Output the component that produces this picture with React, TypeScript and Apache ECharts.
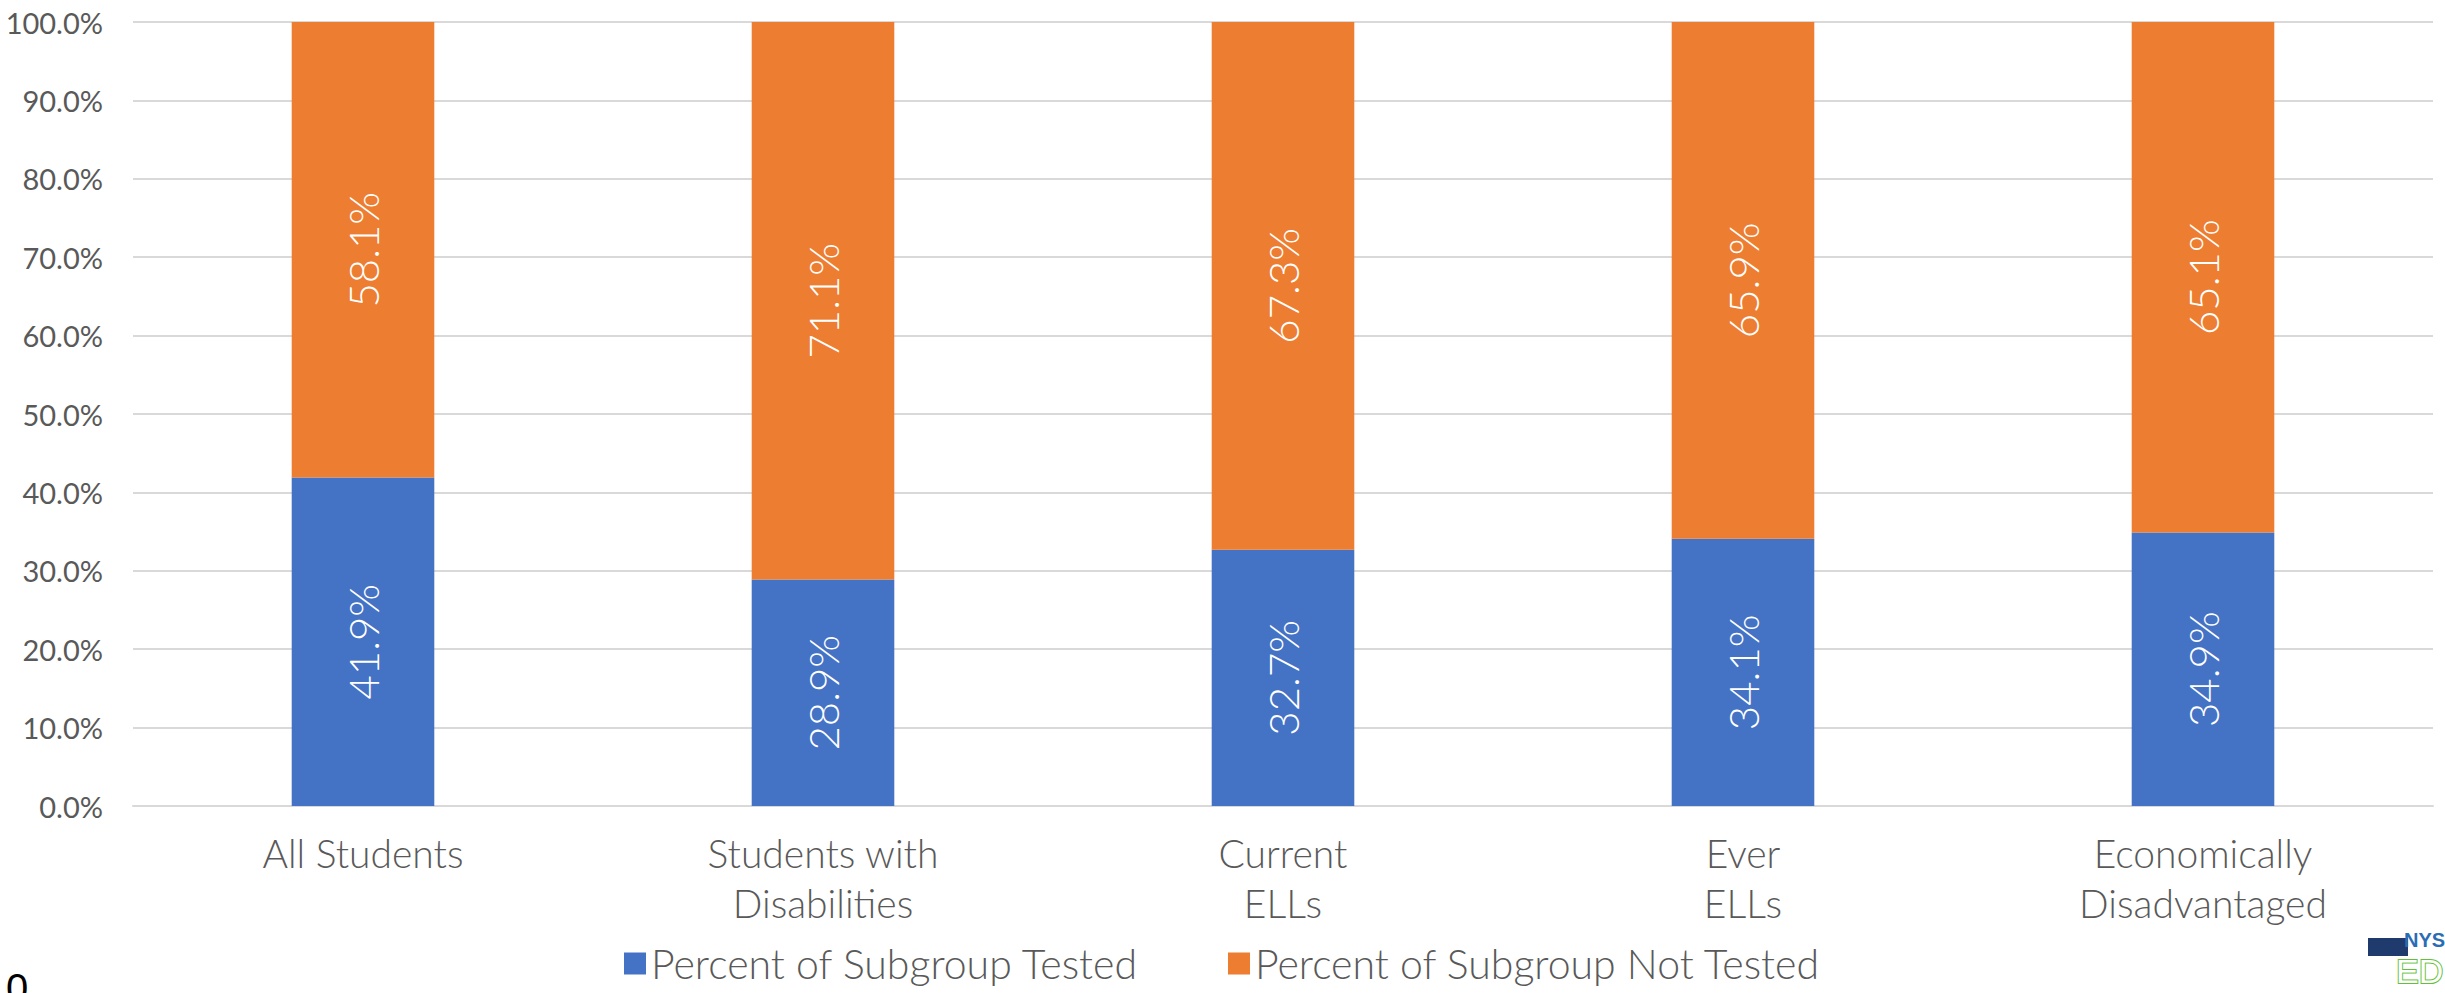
import React, { useEffect, useRef } from "react";
import * as echarts from "echarts";

const categories = [
  "All Students",
  "Students with\nDisabilities",
  "Current\nELLs",
  "Ever\nELLs",
  "Economically\nDisadvantaged",
];
const testedValues = [41.9, 28.9, 32.7, 34.1, 34.9];
const notTestedValues = [58.1, 71.1, 67.3, 65.9, 65.1];
const seriesNames = ["Percent of Subgroup Tested", "Percent of Subgroup Not Tested"];
const yTicks = { min: 0, max: 100, interval: 10 };

export default function App() {
  const ref = useRef<HTMLDivElement>(null);
  useEffect(() => {
    document.body.style.margin = "0";
    const chart = echarts.init(ref.current!, null, { renderer: "svg" });
    const font = "Lato, 'Open Sans', sans-serif";
    const labelStyle = {
      show: true,
      position: "inside",
      rotate: 90,
      color: "#ffffff",
      fontSize: 42,
      fontFamily: font,
      fontWeight: 300,
      formatter: (p: any) => p.value.toFixed(1) + "%",
    };
    chart.setOption({
      animation: false,
      grid: { left: 133, right: 12, top: 22, bottom: 187, containLabel: false },
      legend: {
        bottom: 4,
        left: "center",
        itemWidth: 22,
        itemHeight: 22,
        itemGap: 89,
        icon: "rect",
        textStyle: { color: "#595959", fontSize: 41, fontFamily: font, fontWeight: 300 },
        data: seriesNames,
      },
      xAxis: {
        type: "category",
        data: categories,
        axisLine: { show: true, lineStyle: { color: "#d9d9d9", width: 2 } },
        axisTick: { show: false },
        axisLabel: {
          color: "#595959",
          fontSize: 39,
          lineHeight: 50,
          fontFamily: font,
          fontWeight: 300,
          margin: 22,
          interval: 0,
        },
      },
      yAxis: {
        type: "value",
        min: yTicks.min,
        max: yTicks.max,
        interval: yTicks.interval,
        axisLine: { show: false },
        axisTick: { show: false },
        splitLine: { lineStyle: { color: "#d9d9d9", width: 2 } },
        axisLabel: {
          color: "#595959",
          fontSize: 29,
          fontFamily: font,
          margin: 30,
          formatter: (v: number) => v.toFixed(1) + "%",
        },
      },
      series: [
        {
          name: seriesNames[0],
          type: "bar",
          stack: "total",
          data: testedValues,
          barWidth: "31%",
          itemStyle: { color: "#4472C4" },
          label: labelStyle,
        },
        {
          name: seriesNames[1],
          type: "bar",
          stack: "total",
          data: notTestedValues,
          barWidth: "31%",
          itemStyle: { color: "#ED7D31" },
          label: labelStyle,
        },
      ],
      graphic: [
        {
          type: "text",
          left: 6,
          top: 968,
          style: { text: "0", fontSize: 40, fill: "#000000", fontFamily: "'Liberation Sans', sans-serif" },
        },
        {
          type: "group",
          left: 2368,
          top: 930,
          children: [
            { type: "rect", shape: { x: 0, y: 10, width: 40, height: 18 }, style: { fill: "#1f3b6e" } },
            { type: "text", x: 36, y: 2, style: { text: "NYS", fontSize: 20, fontWeight: "bold", fill: "#2a6db5", fontFamily: "'Liberation Sans', sans-serif" } },
            { type: "text", x: 28, y: 26, style: { text: "ED", fontSize: 34, fill: "#ffffff", stroke: "#62c13a", lineWidth: 2, fontFamily: "'Liberation Sans', sans-serif" } },
          ],
        },
      ],
    });
    return () => chart.dispose();
  }, []);
  return <div ref={ref} style={{ width: 2445, height: 993 }} />;
}
